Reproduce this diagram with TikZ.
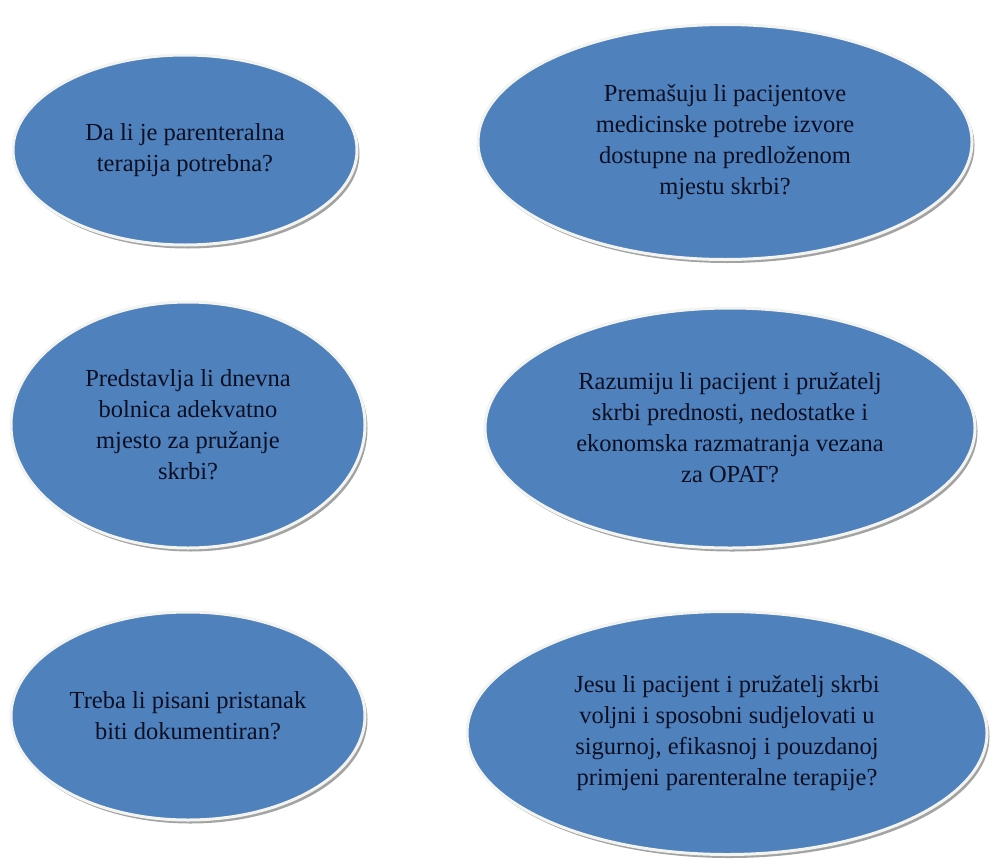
\documentclass[tikz,border=0pt]{standalone}
\usepackage{fontspec}
\setmainfont{Liberation Serif}
\usetikzlibrary{shapes.geometric,shadows}
\definecolor{bubblefill}{HTML}{4F81BD}
\definecolor{bubbleline}{HTML}{F3F3EF}
\definecolor{bubbletext}{HTML}{0C0F22}

\begin{document}
\begin{tikzpicture}[%
        x=1pt, y=-1pt,
        every node/.style={ellipse, fill=bubblefill, draw=bubbleline, line width=3pt,
          inner sep=0pt, align=center, text=bubbletext,
          font=\fontsize{24.5}{31}\selectfont,
          drop shadow={shadow xshift=2.5pt, shadow yshift=-3.5pt, opacity=0.6, fill=black!60}}
      ]
      \useasboundingbox (0,0) rectangle (1000,864);
      % left column
      \node (parent) [minimum width=344pt, minimum height=190pt] at (185,150)
        {Da li je parenteralna\\terapija potrebna?};
      \node (bolnica) [minimum width=354pt, minimum height=246pt] at (188,425)
        {Predstavlja li dnevna\\bolnica adekvatno\\mjesto za pružanje\\skrbi?};
      \node (pristanak) [minimum width=354pt, minimum height=208pt] at (188,716)
        {Treba li pisani pristanak\\biti dokumentiran?};
      % right column
      \node (izvori) [minimum width=494pt, minimum height=235pt] at (725,142)
        {Premašuju li pacijentove\\medicinske potrebe izvore\\dostupne na predloženom\\mjestu skrbi?};
      \node (opat) [minimum width=490pt, minimum height=240pt] at (730,428)
        {Razumiju li pacijent i pružatelj\\skrbi prednosti, nedostatke i\\ekonomska razmatranja vezana\\za OPAT?};
      \node (voljni) [minimum width=520pt, minimum height=243pt] at (727,733)
        {Jesu li pacijent i pružatelj skrbi\\voljni i sposobni sudjelovati u\\sigurnoj, efikasnoj i pouzdanoj\\primjeni parenteralne terapije?};
\end{tikzpicture}
\end{document}
